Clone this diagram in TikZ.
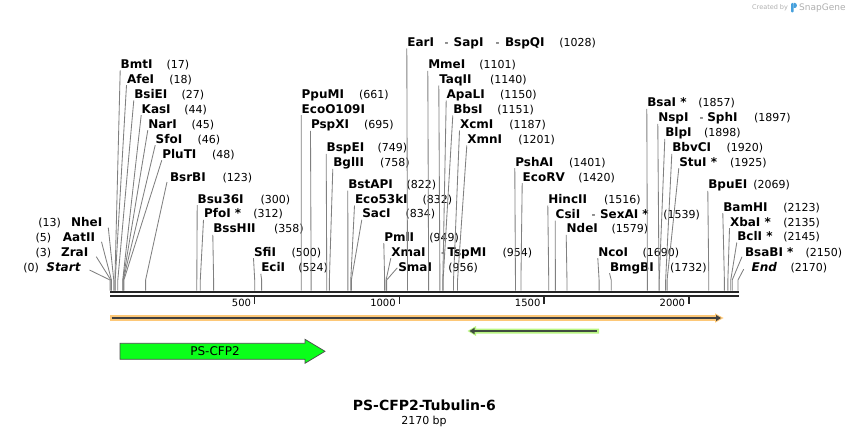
\documentclass[tikz,border=0pt]{standalone}
\usepackage{fontspec}
\setmainfont{DejaVu Sans}
\usetikzlibrary{arrows.meta}
\definecolor{leadgray}{RGB}{128,128,128}
\definecolor{bbone}{RGB}{38,38,38}
\definecolor{orhalo}{RGB}{253,200,120}
\definecolor{grhalo}{RGB}{185,245,130}
\definecolor{grline}{RGB}{64,76,64}
\definecolor{cfpgreen}{RGB}{10,255,26}
\definecolor{wmgray}{RGB}{175,175,175}
\definecolor{wmblue}{RGB}{70,160,220}
\tikzset{
  enz/.style={font=\fontsize{12}{14}\selectfont\bfseries, anchor=base west, inner sep=0pt, outer sep=0pt},
  enzit/.style={enz, font=\fontsize{12}{14}\selectfont\bfseries\itshape},
  posnum/.style={font=\fontsize{11}{13}\selectfont, anchor=base west, inner sep=0pt, outer sep=0pt},
  leader/.style={draw=leadgray, line width=0.85pt},
  ticklab/.style={font=\fontsize{10}{11}\selectfont, anchor=base east, inner sep=0pt},
  tickmark/.style={draw=bbone, line width=1.5pt},
  backbone/.style={draw=bbone, line width=2.2pt},
}
\newcommand\Enz[6]{%
  \node[enz] (#1) at (#2,{#3+4.5}) {#4};
  \node[posnum] (#1-n) at (#5,{#3+4.5}) {#6};}
\newcommand\LEnz[6]{%
  \node[enz,anchor=base east] (#1) at (#2,{#3+4.5}) {#4};
  \node[posnum] (#1-n) at (#5,{#3+4.5}) {#6};}
\newcommand\SiteLead[3]{%
  \coordinate (#2-s) at ({110+#3*0.2894},280);
  \coordinate (#2-b) at ({110+#3*0.2894},290.5);
  \draw[leader] (#1) -- (#2-s) -- (#2-b);}
\newcommand\UpLead[2]{\SiteLead{[xshift=-0.5pt,yshift=-2pt]#1.base west}{#1}{#2}}
\begin{document}
\begin{tikzpicture}[x=1pt,y=-1pt]
\useasboundingbox (0,0) rectangle (849,436);

% ---------- backbone ----------
\coordinate (bbL1) at (110,292.2);
\coordinate (bbR1) at (739,292.2);
\coordinate (bbL2) at (110,296.3);
\coordinate (bbR2) at (739,296.3);
\draw[backbone] (bbL1) -- (bbR1);
\draw[backbone, line width=2pt] (bbL2) -- (bbR2);
\foreach \v in {500,1000,1500,2000}{
  \coordinate (tk\v a) at ({110+\v*0.2894},297);
  \coordinate (tk\v b) at ({110+\v*0.2894},304);
  \draw[tickmark] (tk\v a) -- (tk\v b);
  \node[ticklab] (tl\v) at ({110+\v*0.2894-3.5},306.5) {\v};
}

% ---------- left labels ----------
\LEnz{NheI}{102.3}{222.3}{NheI}{38.3}{(13)}
\LEnz{AatII}{95}{237.3}{AatII}{35.7}{(5)}
\LEnz{ZraI}{88.3}{251.7}{ZraI}{35.7}{(3)}
\node[enzit,anchor=base east] (Start) at (80.5,271.2) {Start};
\node[posnum] (Start-n) at (23.3,271.2) {(0)};

% ---------- upper labels ----------
\Enz{BmtI}{120.7}{63.8}{BmtI}{166.7}{(17)}
\Enz{AfeI}{127}{78.7}{AfeI}{169.3}{(18)}
\Enz{BsiEI}{134.3}{93.8}{BsiEI}{181.7}{(27)}
\Enz{KasI}{141.7}{108.7}{KasI}{184.3}{(44)}
\Enz{NarI}{148.3}{123.7}{NarI}{191.7}{(45)}
\Enz{SfoI}{155.7}{138.7}{SfoI}{197.7}{(46)}
\Enz{PluTI}{162.3}{153.7}{PluTI}{212}{(48)}
\Enz{BsrBI}{170}{177}{BsrBI}{222.7}{(123)}
\Enz{Bsu36I}{197.7}{198.7}{Bsu36I}{260.7}{(300)}
\Enz{PfoI}{204}{213.3}{PfoI *}{253.3}{(312)}
\Enz{BssHII}{213.3}{228.3}{BssHII}{274}{(358)}
\Enz{SfiI}{254}{251.7}{SfiI}{291.7}{(500)}
\Enz{EciI}{261.3}{267.3}{EciI}{298.3}{(524)}
\Enz{PpuMI}{301.7}{93.8}{PpuMI}{359}{(661)}
\node[enz] (EcoO109I) at (301.7,113.2) {EcoO109I};
\Enz{PspXI}{311}{124.3}{PspXI}{364}{(695)}
\Enz{BspEI}{326.7}{147.3}{BspEI}{377.7}{(749)}
\Enz{BglII}{333.3}{162.3}{BglII}{380}{(758)}
\Enz{BstAPI}{348.3}{184}{BstAPI}{406.7}{(822)}
\Enz{Eco53kI}{355}{199}{Eco53kI}{422.7}{(832)}
\Enz{SacI}{362.3}{213.3}{SacI}{405.7}{(834)}
\Enz{PmlI}{384.3}{236.7}{PmlI}{429.3}{(949)}
\Enz{XmaI}{391.3}{251.7}{XmaI}{502.7}{(954)}
\node[posnum] (XmaI-d) at (441,256.2) {-};
\node[enz] (TspMI) at (447.5,256.2) {TspMI};
\Enz{SmaI}{398.3}{267.3}{SmaI}{448.3}{(956)}
\Enz{EarI}{407.3}{42}{EarI}{559.3}{(1028)}
\node[posnum] (EarI-d1) at (444.5,46.5) {-};
\node[enz] (SapI) at (453.7,46.5) {SapI};
\node[posnum] (EarI-d2) at (495.5,46.5) {-};
\node[enz] (BspQI) at (505,46.5) {BspQI};
\Enz{MmeI}{428.3}{64.3}{MmeI}{479.3}{(1101)}
\Enz{TaqII}{439.3}{79}{TaqII}{490}{(1140)}
\Enz{ApaLI}{446.7}{94}{ApaLI}{500}{(1150)}
\Enz{BbsI}{453.3}{109}{BbsI}{497.3}{(1151)}
\Enz{XcmI}{460}{124}{XcmI}{509.3}{(1187)}
\Enz{XmnI}{467.3}{139}{XmnI}{518.3}{(1201)}
\Enz{PshAI}{515.3}{161.7}{PshAI}{569}{(1401)}
\Enz{EcoRV}{522.7}{176.7}{EcoRV}{578.3}{(1420)}
\Enz{HincII}{548.3}{199}{HincII}{604}{(1516)}
\Enz{CsiI}{555.7}{214}{CsiI}{663.3}{(1539)}
\node[posnum] (CsiI-d) at (591.5,218.5) {-};
\node[enz] (SexAI) at (600,218.5) {SexAI *};
\Enz{NdeI}{566.7}{228.3}{NdeI}{611.7}{(1579)}
\Enz{NcoI}{598.3}{251.7}{NcoI}{642.7}{(1690)}
\Enz{BmgBI}{610}{266.7}{BmgBI}{670}{(1732)}
\Enz{BsaI}{647.3}{102.3}{BsaI *}{698.3}{(1857)}
\Enz{NspI}{658.3}{117.3}{NspI}{754}{(1897)}
\node[posnum] (NspI-d) at (699.5,121.8) {-};
\node[enz] (SphI) at (707.3,121.8) {SphI};
\Enz{BlpI}{665.3}{132.3}{BlpI}{704}{(1898)}
\Enz{BbvCI}{672.3}{147.3}{BbvCI}{726.7}{(1920)}
\Enz{StuI}{679.3}{161.7}{StuI *}{730}{(1925)}
\Enz{BpuEI}{708.3}{184.3}{BpuEI}{753.3}{(2069)}
\Enz{BamHI}{723.3}{206.7}{BamHI}{783.3}{(2123)}
\Enz{XbaI}{730}{221.7}{XbaI *}{783.3}{(2135)}
\Enz{BclI}{737.3}{236}{BclI *}{783.3}{(2145)}
\Enz{BsaBI}{745}{251.7}{BsaBI *}{805.7}{(2150)}
\node[enzit] (End) at (751.7,271.2) {End};
\node[posnum] (End-n) at (790.7,271.2) {(2170)};

% ---------- leader lines ----------
\SiteLead{[xshift=6pt,yshift=-0.8pt]NheI.base east}{NheI}{13}
\SiteLead{[xshift=6.5pt,yshift=0pt]AatII.base east}{AatII}{5}
\SiteLead{[xshift=8pt,yshift=-0.5pt]ZraI.base east}{ZraI}{3}
\SiteLead{[xshift=9pt,yshift=1.2pt]Start.base east}{Start}{0}
\UpLead{BmtI}{17}
\UpLead{AfeI}{18}
\UpLead{BsiEI}{27}
\UpLead{KasI}{44}
\UpLead{NarI}{45}
\UpLead{SfoI}{46}
\UpLead{PluTI}{48}
\SiteLead{[xshift=-3pt,yshift=-0.5pt]BsrBI.base west}{BsrBI}{123}
\UpLead{Bsu36I}{300}
\UpLead{PfoI}{312}
\UpLead{BssHII}{358}
\UpLead{SfiI}{500}
\UpLead{EciI}{524}
\UpLead{EcoO109I}{661}
\UpLead{PspXI}{695}
\UpLead{BspEI}{749}
\UpLead{BglII}{758}
\UpLead{BstAPI}{822}
\UpLead{Eco53kI}{832}
\UpLead{SacI}{834}
\UpLead{PmlI}{949}
\UpLead{XmaI}{954}
\SiteLead{[xshift=-1pt,yshift=4pt]SmaI.base west}{SmaI}{956}
\UpLead{EarI}{1028}
\UpLead{MmeI}{1101}
\UpLead{TaqII}{1140}
\UpLead{ApaLI}{1150}
\UpLead{BbsI}{1151}
\UpLead{XcmI}{1187}
\UpLead{XmnI}{1201}
\UpLead{PshAI}{1401}
\UpLead{EcoRV}{1420}
\UpLead{HincII}{1516}
\UpLead{CsiI}{1539}
\UpLead{NdeI}{1579}
\UpLead{NcoI}{1690}
\UpLead{BmgBI}{1732}
\UpLead{BsaI}{1857}
\UpLead{NspI}{1897}
\UpLead{BlpI}{1898}
\UpLead{BbvCI}{1920}
\UpLead{StuI}{1925}
\UpLead{BpuEI}{2069}
\UpLead{BamHI}{2123}
\UpLead{XbaI}{2135}
\UpLead{BclI}{2145}
\SiteLead{[xshift=-3pt,yshift=-0.5pt]BsaBI.base west}{BsaBI}{2150}
\SiteLead{[xshift=-8pt,yshift=2pt]End.base west}{End}{2170}

% ---------- features ----------
\fill[orhalo] (110,315.2) -- (715,315.2) -- (715,313.3) -- (723.5,318) -- (715,322.7) -- (715,320.8) -- (110,320.8) -- cycle;
\draw[black!75, line width=2pt, -{Triangle[length=5pt,width=6pt]}] (111.5,318) -- (721,318);

\fill[grhalo] (599,328.5) -- (476,328.5) -- (476,326) -- (467.5,331) -- (476,336) -- (476,333.5) -- (599,333.5) -- cycle;
\draw[grline, line width=2pt, -{Triangle[length=5pt,width=6pt]}] (596.5,331) -- (469.5,331);

\draw[fill=cfpgreen, draw=black!70, line width=0.7pt] (120,343.3) -- (305,343.3) -- (305,339.3) -- (325,351.3) -- (305,363.3) -- (305,359.3) -- (120,359.3) -- cycle;
\node[font=\fontsize{12}{14}\selectfont, inner sep=0pt, anchor=base] (cfp) at (215,355.6) {PS-CFP2};

% ---------- title ----------
\node[font=\fontsize{14}{16}\selectfont\bfseries, anchor=base, inner sep=0pt] (title) at (424.3,410.2) {PS-CFP2-Tubulin-6};
\node[font=\fontsize{11}{13}\selectfont, anchor=base, inner sep=0pt] (bp) at (424,424.5) {2170 bp};

% ---------- watermark ----------
\node[font=\fontsize{6.5}{8}\selectfont, text=wmgray, anchor=base west, inner sep=0pt] (wm1) at (752,10) {Created by};
\fill[wmblue, rounded corners=1pt] (791,3) rectangle (793.5,12.5);
\fill[wmblue] (793.5,3) -- (795,3) .. controls (797.5,3) and (797.5,8) .. (795,8) -- (793.5,8) -- cycle;
\node[font=\fontsize{9}{11}\selectfont, text=wmgray, anchor=base west, inner sep=0pt] (wm2) at (799,10.5) {SnapGene};
\end{tikzpicture}
\end{document}
